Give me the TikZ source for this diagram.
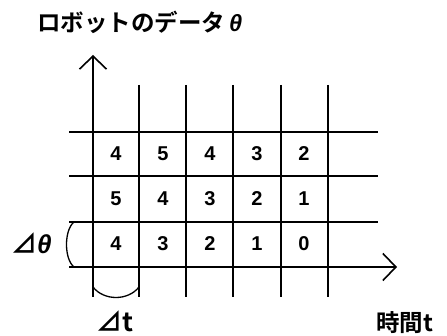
\documentclass[tikz,border=0pt]{standalone}
\usepackage{fontspec}
\usetikzlibrary{arrows.meta}
\newfontfamily\jpfont{Noto Sans CJK JP}[BoldFont={Noto Sans CJK JP Bold}]
\newfontfamily\numfont{Liberation Sans}

\begin{document}
\begin{tikzpicture}[x=1pt,y=-1pt,
  grid/.style={line width=1.6pt},
  axis/.style={line width=1.6pt,-{Straight Barb[length=13pt,width=27pt,line width=1.6pt]}},
  brace/.style={line width=1.3pt},
  cellnum/.style={font=\numfont\bfseries\fontsize{20}{22}\selectfont},
  label/.style={font=\jpfont\bfseries\fontsize{23.5}{26}\selectfont,inner sep=0pt},
  deltalabel/.style={font=\jpfont\bfseries\fontsize{26}{28}\selectfont,inner sep=0pt}
]
\useasboundingbox (0,0) rectangle (447,336);
% axes
\coordinate (origin) at (93,267);
\coordinate (ytip) at (93,55);
\coordinate (ybase) at (93,297);
\coordinate (xbase) at (69,267);
\coordinate (xtip) at (397,267);
\draw[axis] (ybase) -- (ytip);
\draw[axis] (xbase) -- (xtip);
% grid
\foreach \x in {139,186,233,281,328}
  \draw[grid] (\x,85) -- (\x,297);
\foreach \y in {132,176,222}
  \draw[grid] (69,\y) -- (378,\y);
% cell values
\foreach \v [count=\i] in {4,5,4,3,2}
  \node[cellnum] (a\i) at (69+47*\i,154) {\v};
\foreach \v [count=\i] in {5,4,3,2,1}
  \node[cellnum] (b\i) at (69+47*\i,199) {\v};
\foreach \v [count=\i] in {4,3,2,1,0}
  \node[cellnum] (c\i) at (69+47*\i,244) {\v};
% labels
\node[label,anchor=west] (title) at (37,22) {ロボットのデータ\,{\numfont\itshape θ}};
\node[deltalabel,anchor=west] (dtheta) at (11,243) {⊿{\numfont\itshape θ}};
\node[deltalabel,anchor=west] (dt) at (96,321) {⊿t};
\node[label,anchor=west] (timelabel) at (376,323) {時間t};
% delta braces
\coordinate (lb1) at (74,222);
\coordinate (lb2) at (74,267);
\draw[brace] (lb1) .. controls (64,230) and (64,259) .. (lb2);
\coordinate (bb1) at (93,287);
\coordinate (bb2) at (139,287);
\draw[brace] (bb1) .. controls (104,301) and (128,301) .. (bb2);
\end{tikzpicture}
\end{document}
